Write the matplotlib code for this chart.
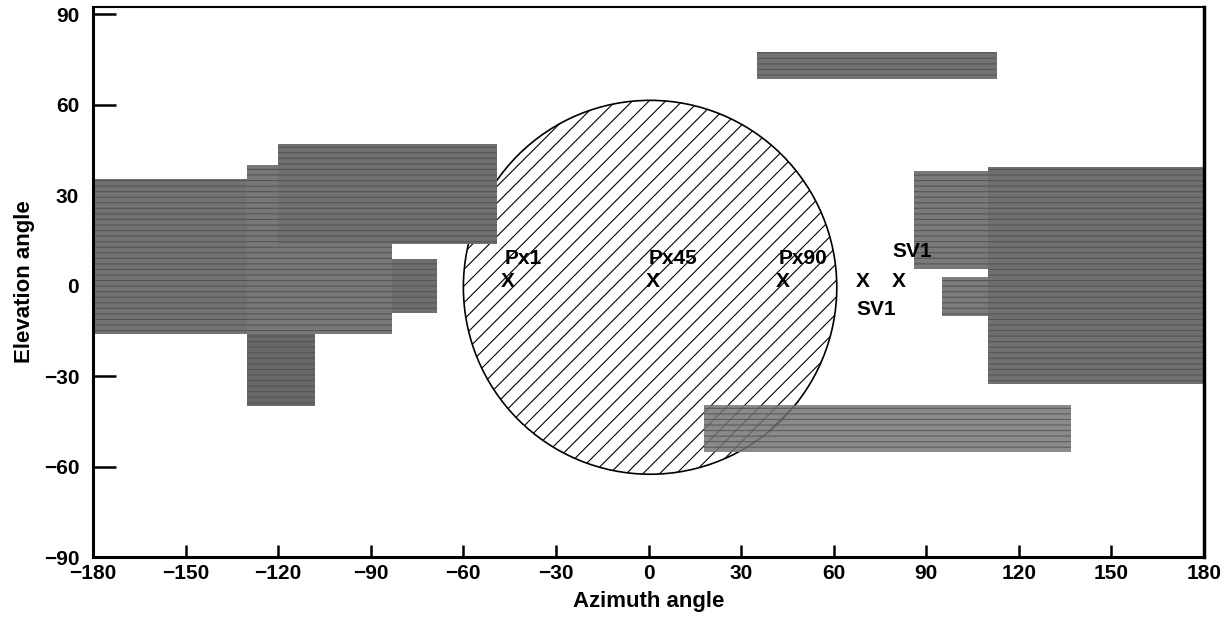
import matplotlib
matplotlib.use("Agg")
import matplotlib.pyplot as plt
from matplotlib.patches import Rectangle, Ellipse

plt.rcParams["font.family"] = ["Liberation Sans", "DejaVu Sans"]
plt.rcParams["font.weight"] = "bold"
plt.rcParams["hatch.linewidth"] = 0.8

# coverage blocks: (az_min, az_max, el_min, el_max)
block_az0 = [-180, -130, -120, -83, -130, 35, 18, 86, 95, 110]
block_az1 = [-130, -83, -49, -68.5, -108, 113, 137, 110, 110, 180]
block_el0 = [-16, -16, 14, -9, -40, 68.5, -55, 5.5, -10, -32.5]
block_el1 = [35.5, 40, 47, 9, -16, 77.5, -39.5, 38, 3, 39.5]
block_gray = ["#727272", "#787878", "#707070", "#6e6e6e", "#686868",
              "#727272", "#767676", "#7a7a7a", "#7c7c7c", "#707070"]
block_alpha = [1, 1, 1, 1, 1, 1, 0.85, 1, 1, 1]

# marker points and labels
pt_az = [-45.5, 1.5, 43.5, 69.5, 81]
pt_el = [1.3, 1.3, 1.3, 1.3, 1.3]
lab_text = ["Px1", "Px45", "Px90", "SV1", "SV1"]
lab_az = [-46.5, 0.0, 42.0, 79, 67.5]
lab_el = [9, 9, 9, 11.5, -8]

x_ticks = [-180, -150, -120, -90, -60, -30, 0, 30, 60, 90, 120, 150, 180]
y_ticks = [-90, -60, -30, 0, 30, 60, 90]

fig = plt.figure(figsize=(12.24, 6.26), dpi=100)
ax = fig.add_axes([0.076, 0.110, 0.9077, 0.879])
ax.set_xlim(-180, 180)
ax.set_ylim(-90, 92.5)

# hatched circle
circ = Ellipse((0.5, -0.5), 121, 124, facecolor="white", edgecolor="black",
               hatch="//", linewidth=1.2, zorder=1)
ax.add_patch(circ)

for a0, a1, e0, e1, g, al in zip(block_az0, block_az1, block_el0, block_el1,
                                 block_gray, block_alpha):
    rect = Rectangle((a0, e0), a1 - a0, e1 - e0, facecolor=g,
                     edgecolor="#555555", linewidth=0, hatch="---",
                     alpha=al, zorder=2)
    ax.add_patch(rect)

for a, e in zip(pt_az, pt_el):
    ax.text(a, e, "X", ha="center", va="center", fontsize=15,
            fontweight="bold", zorder=4)
for t, a, e in zip(lab_text, lab_az, lab_el):
    ax.text(a, e, t, ha="left", va="center", fontsize=15,
            fontweight="bold", zorder=4)

ax.set_xticks(x_ticks)
ax.set_xticklabels([str(v).replace("-", "\u2212") for v in x_ticks])
ax.set_yticks(y_ticks)
ax.set_yticklabels([str(v).replace("-", "\u2212") for v in y_ticks])
ax.tick_params(axis="y", direction="in", length=16.5, width=1.8, labelsize=15, pad=10)
ax.tick_params(axis="x", direction="in", length=9, width=1.8, labelsize=15, pad=5)
for lbl in ax.get_xticklabels() + ax.get_yticklabels():
    lbl.set_fontweight("bold")

ax.spines["left"].set_linewidth(2.2)
ax.spines["bottom"].set_linewidth(2.2)
ax.spines["right"].set_linewidth(2.5)
ax.spines["top"].set_linewidth(1.5)

ax.set_xlabel("Azimuth angle", fontsize=16, fontweight="bold", labelpad=6)
ax.set_ylabel("Elevation angle", fontsize=16, fontweight="bold", labelpad=6)

fig.savefig("out.png", dpi=100)
